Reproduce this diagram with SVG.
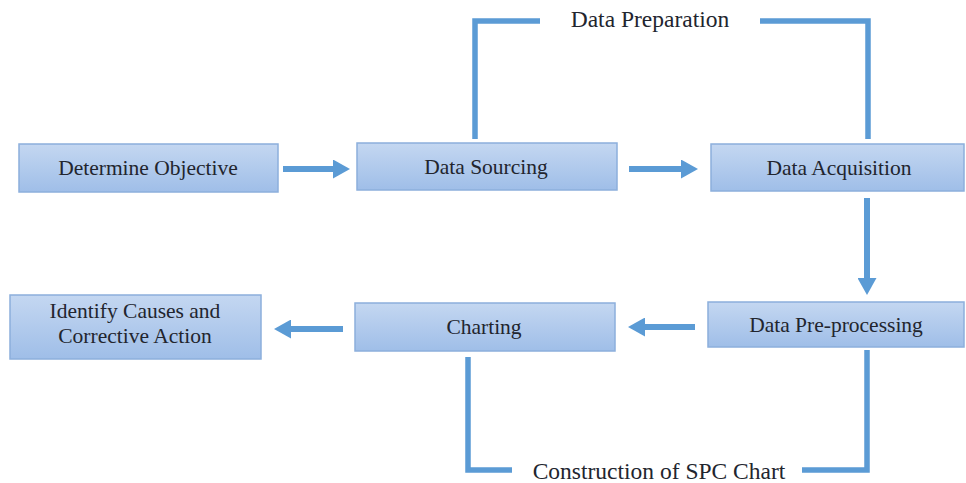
<svg xmlns="http://www.w3.org/2000/svg" width="966" height="483" viewBox="0 0 966 483">
  <defs>
    <linearGradient id="boxFill" x1="0" y1="0" x2="0" y2="1">
      <stop offset="0" stop-color="#c4d7f1"/>
      <stop offset="1" stop-color="#9fbee8"/>
    </linearGradient>
    <marker id="head" viewBox="0 0 17 19" refX="2" refY="9.5" markerWidth="17" markerHeight="19" markerUnits="userSpaceOnUse" orient="auto">
      <path d="M0,0 L17,9.5 L0,19 Z" fill="#5b9bd5"/>
    </marker>
  </defs>
  <style>
    .box { fill: url(#boxFill); stroke: #8cafdc; stroke-width: 1.5; }
    .lbl { font-family: "Liberation Serif", "Times New Roman", serif; font-size: 21.5px; fill: #22252e; text-anchor: middle; }
    .big { font-family: "Liberation Serif", "Times New Roman", serif; font-size: 23.5px; fill: #22252e; text-anchor: middle; }
    .arrow { stroke: #5b9bd5; stroke-width: 6; fill: none; marker-end: url(#head); }
    .bracket { stroke: #5b9bd5; stroke-width: 5.5; fill: none; stroke-linejoin: miter; }
  </style>
  <rect width="966" height="483" fill="#ffffff"/>

  <g id="connectors">
    <line class="arrow" x1="283" y1="169" x2="335" y2="169"/>
    <line class="arrow" x1="629" y1="169" x2="683" y2="169"/>
    <line class="arrow" x1="867" y1="198" x2="867" y2="280"/>
    <line class="arrow" x1="695" y1="327" x2="643" y2="327"/>
    <line class="arrow" x1="343" y1="329" x2="289" y2="329"/>
    <path class="bracket" d="M475,139 V21 H540"/>
    <path class="bracket" d="M760,21 H868 V139"/>
    <path class="bracket" d="M468,357 V470 H512"/>
    <path class="bracket" d="M802,470 H867 V350"/>
  </g>

  <g id="label-data-preparation">
    <text class="big" x="650" y="27">Data Preparation</text>
  </g>
  <g id="label-construction-spc">
    <text class="big" x="659" y="479">Construction of SPC Chart</text>
  </g>

  <g id="node-determine-objective">
    <rect class="box" x="19" y="144" width="259" height="48"/>
    <text class="lbl" x="148" y="175">Determine Objective</text>
  </g>
  <g id="node-data-sourcing">
    <rect class="box" x="357" y="143" width="260" height="47"/>
    <text class="lbl" x="486" y="174">Data Sourcing</text>
  </g>
  <g id="node-data-acquisition">
    <rect class="box" x="711" y="144" width="253" height="47"/>
    <text class="lbl" x="839" y="175">Data Acquisition</text>
  </g>
  <g id="node-identify-causes">
    <rect class="box" x="10" y="295" width="251" height="64"/>
    <text class="lbl" x="135" y="318">Identify Causes and</text>
    <text class="lbl" x="135" y="343">Corrective Action</text>
  </g>
  <g id="node-charting">
    <rect class="box" x="355" y="303" width="260" height="48"/>
    <text class="lbl" x="484" y="334">Charting</text>
  </g>
  <g id="node-data-preprocessing">
    <rect class="box" x="708" y="302" width="256" height="45"/>
    <text class="lbl" x="836" y="332">Data Pre-processing</text>
  </g>
</svg>
